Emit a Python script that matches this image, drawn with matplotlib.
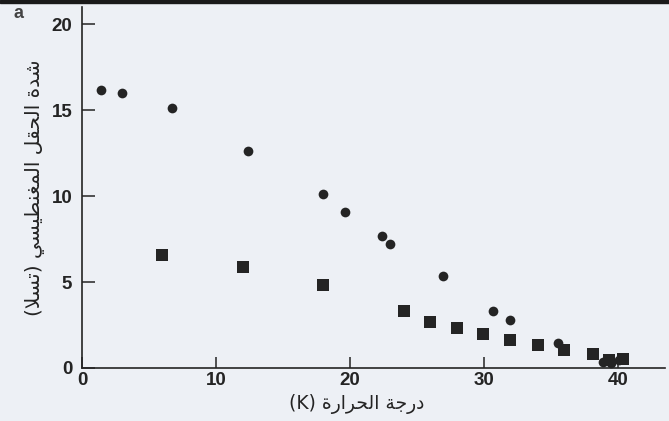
import matplotlib
matplotlib.use("Agg")
import matplotlib.pyplot as plt

# سلسلة الدوائر
circ_T = [1.4, 3.0, 6.7, 12.4, 18.0, 19.6, 22.4, 23.0, 26.9, 30.7, 31.9, 35.5, 38.9, 39.5, 40.1]
circ_B = [16.2, 16.0, 15.1, 12.6, 10.1, 9.1, 7.7, 7.2, 5.35, 3.3, 2.8, 1.45, 0.35, 0.3, 0.45]

# سلسلة المربعات
sq_T = [6.0, 12.0, 18.0, 24.0, 26.0, 28.0, 29.9, 31.9, 34.0, 36.0, 38.1, 39.3, 40.4]
sq_B = [6.6, 5.9, 4.8, 3.3, 2.7, 2.3, 2.0, 1.6, 1.35, 1.05, 0.8, 0.45, 0.55]

x_ticks = [0, 10, 20, 30, 40]
y_ticks = [0, 5, 10, 15, 20]

x_label = "درجة الحرارة"
y_label = "شدة الحقل المغنطيسي (تسلا)"

# أشكال الحروف: منفرد، نهائي، ابتدائي، وسطي
FORMS = {
    'ا': ('\uFE8D', '\uFE8E', None, None),
    'ت': ('\uFE95', '\uFE96', '\uFE97', '\uFE98'),
    'ة': ('\uFE93', '\uFE94', None, None),
    'ج': ('\uFE9D', '\uFE9E', '\uFE9F', '\uFEA0'),
    'ح': ('\uFEA1', '\uFEA2', '\uFEA3', '\uFEA4'),
    'د': ('\uFEA9', '\uFEAA', None, None),
    'ر': ('\uFEAD', '\uFEAE', None, None),
    'س': ('\uFEB1', '\uFEB2', '\uFEB3', '\uFEB4'),
    'ش': ('\uFEB5', '\uFEB6', '\uFEB7', '\uFEB8'),
    'ط': ('\uFEC1', '\uFEC2', '\uFEC3', '\uFEC4'),
    'غ': ('\uFECD', '\uFECE', '\uFECF', '\uFED0'),
    'ق': ('\uFED5', '\uFED6', '\uFED7', '\uFED8'),
    'ل': ('\uFEDD', '\uFEDE', '\uFEDF', '\uFEE0'),
    'م': ('\uFEE1', '\uFEE2', '\uFEE3', '\uFEE4'),
    'ن': ('\uFEE5', '\uFEE6', '\uFEE7', '\uFEE8'),
    'ي': ('\uFEF1', '\uFEF2', '\uFEF3', '\uFEF4'),
}


def shape(s):
    out = []
    i = 0
    while i < len(s):
        c = s[i]
        if c not in FORMS:
            out.append(c)
            i += 1
            continue
        prev = s[i - 1] if i > 0 else ''
        joins_prev = prev in FORMS and FORMS[prev][2] is not None
        if c == 'ل' and i + 1 < len(s) and s[i + 1] == 'ا':
            out.append('\uFEFC' if joins_prev else '\uFEFB')
            i += 2
            continue
        nxt = s[i + 1] if i + 1 < len(s) else ''
        joins_next = FORMS[c][2] is not None and nxt in FORMS
        iso, fin, ini, med = FORMS[c]
        if joins_prev and joins_next:
            out.append(med)
        elif joins_prev:
            out.append(fin)
        elif joins_next:
            out.append(ini)
        else:
            out.append(iso)
        i += 1
    return ''.join(out)


def visual(s):
    # ترتيب بصري من اليسار لليمين مع قلب الأقواس
    swap = {'(': ')', ')': '('}
    return ''.join(swap.get(c, c) for c in shape(s)[::-1])


bg = '#edf0f5'
ink = '#242424'

fig = plt.figure(figsize=(6.69, 4.21), dpi=100, facecolor=bg)
ax = fig.add_axes([82 / 669, 53 / 421, 583 / 669, 361 / 421])
ax.set_facecolor(bg)

ax.plot(circ_T, circ_B, 'o', color=ink, markersize=7, markeredgewidth=0)
ax.plot(sq_T, sq_B, 's', color=ink, markersize=8, markeredgewidth=0)

ax.set_xlim(0, 43.5)
ax.set_ylim(0, 21)
ax.set_xticks(x_ticks)
ax.set_yticks(y_ticks)

for s in ['top', 'right']:
    ax.spines[s].set_visible(False)
for s in ['left', 'bottom']:
    ax.spines[s].set_linewidth(1.2)
    ax.spines[s].set_color(ink)

ax.tick_params(axis='y', direction='in', length=9, width=1.1, pad=7,
               colors=ink, labelsize=13.5)
ax.tick_params(axis='x', direction='in', length=8, width=1.1, pad=3,
               colors=ink, labelsize=13.5)
for lab in ax.get_xticklabels() + ax.get_yticklabels():
    lab.set_fontweight('bold')
    lab.set_family(['Liberation Sans', 'DejaVu Sans'])

ax.set_xlabel('(K) ' + visual(x_label), fontsize=13.5, color=ink,
              family=['DejaVu Sans'])
ax.xaxis.set_label_coords(0.472, -0.072)
ax.set_ylabel(visual(y_label), fontsize=14.5, color=ink, family=['DejaVu Sans'])
ax.yaxis.set_label_coords(-0.063, 0.5)

fig.text(18 / 669, 1 - 14 / 421, 'a', fontsize=13, fontweight='bold',
         color='#444444', ha='center', va='center',
         family=['Liberation Sans', 'DejaVu Sans'])

# الشريط الداكن أعلى الصورة
fig.patches.append(plt.Rectangle((0, 1 - 3 / 421), 1, 3 / 421,
                                 transform=fig.transFigure, color='#1a1a1a'))

fig.savefig('out.png', dpi=100, facecolor=bg)
